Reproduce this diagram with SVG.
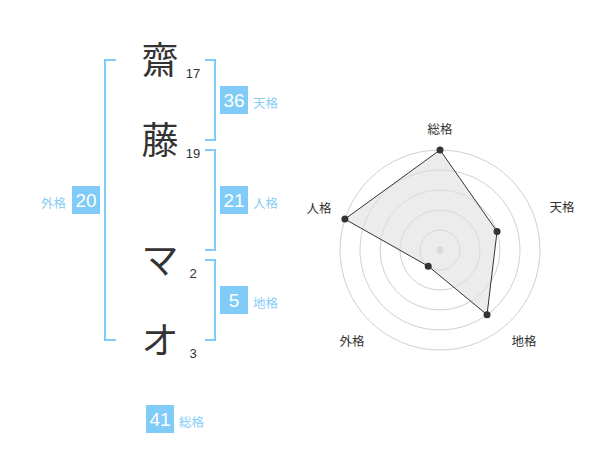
<svg xmlns="http://www.w3.org/2000/svg" width="600" height="470" viewBox="0 0 600 470">
<style>
.ch{font-family:"Noto Sans CJK JP","Noto Sans CJK SC",sans-serif;font-size:37px;fill:#333;text-anchor:middle}
.st{font-family:"Liberation Sans",Arial,sans-serif;font-size:13px;fill:#333;text-anchor:middle}
.br{fill:none;stroke:#80cbf8;stroke-width:2}
.bx{fill:#80cbf8}
.bn{font-family:"Liberation Sans",Arial,sans-serif;font-size:19px;fill:#fff;text-anchor:middle}
.bl{font-family:"Noto Sans CJK JP","Noto Sans CJK SC",sans-serif;font-size:12.5px;fill:#85cdf5}
.rc{fill:none;stroke:#d0d0d0;stroke-width:1}
.rl{font-family:"Noto Sans CJK JP","Noto Sans CJK SC",sans-serif;font-size:12.5px;fill:#333;text-anchor:middle}
.pt{fill:#333}
</style>
<rect width="600" height="470" fill="#fff"/>
<g id="name-chars">
<text class="ch" x="160" y="74">齋</text>
<text class="ch" x="160" y="154">藤</text>
<text class="ch" x="160" y="274">マ</text>
<text class="ch" x="160" y="354">オ</text>
<text class="st" x="193" y="78">17</text>
<text class="st" x="193" y="158">19</text>
<text class="st" x="193" y="278">2</text>
<text class="st" x="193" y="358">3</text>
</g>
<g id="brackets">
<path class="br" d="M116,60 H105 V340 H116"/>
<path class="br" d="M205,60 H215 V140 H205"/>
<path class="br" d="M205,150 H215 V250 H205"/>
<path class="br" d="M205,260 H215 V340 H205"/>
</g>
<g id="tenkaku">
<rect class="bx" x="220" y="86" width="28" height="28"/>
<text class="bn" x="234" y="107">36</text>
<text class="bl" x="253" y="108">天格</text>
</g>
<g id="jinkaku">
<rect class="bx" x="220" y="186" width="28" height="28"/>
<text class="bn" x="234" y="207">21</text>
<text class="bl" x="253" y="208">人格</text>
</g>
<g id="chikaku">
<rect class="bx" x="220" y="286" width="28" height="28"/>
<text class="bn" x="234" y="307">5</text>
<text class="bl" x="253" y="308">地格</text>
</g>
<g id="gaikaku">
<rect class="bx" x="72" y="186" width="28" height="28"/>
<text class="bn" x="86" y="207">20</text>
<text class="bl" x="41" y="208">外格</text>
</g>
<g id="soukaku">
<rect class="bx" x="146" y="405" width="28" height="28"/>
<text class="bn" x="160" y="426">41</text>
<text class="bl" x="179" y="427">総格</text>
</g>
<g id="radar">
<circle class="rc" cx="440" cy="250" r="20"/>
<circle class="rc" cx="440" cy="250" r="40"/>
<circle class="rc" cx="440" cy="250" r="60"/>
<circle class="rc" cx="440" cy="250" r="80"/>
<circle class="rc" cx="440" cy="250" r="100"/>
<circle cx="440" cy="250" r="3.5" fill="#ccc"/>
<polygon points="440,150 497.06,231.46 487.02,314.72 428.24,266.18 344.89,219.10" fill="#e0e0e0" fill-opacity="0.6" stroke="#333" stroke-width="1"/>
<circle class="pt" cx="440" cy="150" r="3.5"/>
<circle class="pt" cx="497.06" cy="231.46" r="3.5"/>
<circle class="pt" cx="487.02" cy="314.72" r="3.5"/>
<circle class="pt" cx="428.24" cy="266.18" r="3.5"/>
<circle class="pt" cx="344.89" cy="219.10" r="3.5"/>
<text class="rl" x="440" y="134">総格</text>
<text class="rl" x="562" y="212">天格</text>
<text class="rl" x="524" y="346">地格</text>
<text class="rl" x="352" y="346">外格</text>
<text class="rl" x="319" y="213">人格</text>
</g>
</svg>
